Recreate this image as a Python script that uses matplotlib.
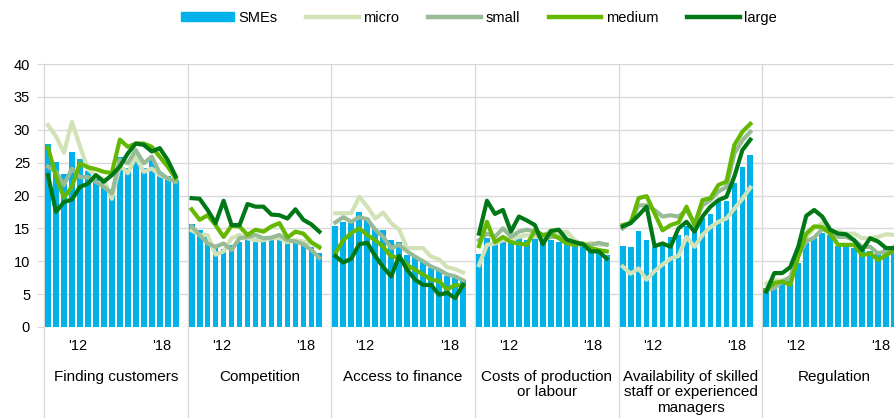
import numpy as np
import matplotlib
matplotlib.use("Agg")
import matplotlib.pyplot as plt
import matplotlib.transforms as mtransforms
from matplotlib.patches import Patch
from matplotlib.lines import Line2D

plt.rcParams["font.family"] = ["Liberation Sans", "DejaVu Sans"]

# Problems (one panel per problem), 17 survey rounds each
problems = ["Finding customers", "Competition", "Access to finance",
            "Costs of production\nor labour",
            "Availability of skilled\nstaff or experienced\nmanagers",
            "Regulation"]
year_labels = ["'12", "'18"]

smes = [
    [27.8, 25.1, 23.3, 26.6, 25.5, 23.8, 22.5, 22.0, 21.0, 25.9, 24.2, 26.0, 24.2, 25.5, 23.5, 23.0, 22.3],
    [15.6, 14.8, 13.8, 12.5, 11.8, 12.5, 13.0, 13.5, 13.5, 13.3, 13.2, 13.3, 13.0, 12.8, 12.8, 12.2, 11.2],
    [15.3, 16.0, 15.8, 17.5, 16.6, 14.9, 14.8, 13.2, 13.0, 11.0, 10.6, 10.0, 9.0, 8.5, 7.8, 7.5, 7.1],
    [11.1, 13.6, 13.0, 13.0, 13.2, 14.0, 13.3, 13.4, 13.0, 13.3, 13.0, 12.8, 12.4, 12.4, 11.8, 11.6, 11.0],
    [12.3, 12.2, 14.6, 13.2, 12.2, 12.5, 13.7, 14.0, 15.4, 15.0, 16.6, 17.2, 19.1, 19.1, 21.9, 24.3, 26.1],
    [5.9, 6.4, 6.8, 7.2, 9.8, 12.8, 13.5, 14.3, 14.0, 12.3, 12.3, 12.0, 11.7, 11.6, 11.5, 12.3, 12.3],
]
micro = [
    [30.7, 29.0, 26.5, 31.2, 27.5, 24.0, 23.0, 22.5, 19.5, 24.6, 23.4, 25.9, 23.6, 24.1, 23.1, 22.6, 22.1],
    [14.7, 14.0, 14.0, 11.0, 11.5, 13.5, 14.0, 13.5, 13.2, 13.2, 13.5, 13.5, 12.9, 13.2, 13.0, 12.7, 12.3],
    [17.3, 17.3, 17.3, 19.8, 18.3, 16.5, 17.4, 15.8, 14.8, 12.0, 12.0, 12.0, 10.7, 10.3, 9.1, 8.8, 8.3],
    [9.4, 12.5, 12.7, 13.2, 13.3, 13.7, 14.0, 13.7, 13.7, 14.8, 14.2, 14.5, 13.2, 12.5, 12.8, 12.5, 12.6],
    [9.2, 8.1, 8.9, 7.2, 8.5, 9.5, 10.4, 10.8, 13.7, 12.2, 14.0, 15.2, 16.0, 16.5, 18.0, 19.5, 21.2],
    [6.6, 7.1, 7.1, 7.4, 11.7, 13.7, 15.0, 15.8, 14.2, 14.5, 14.2, 14.2, 13.5, 13.5, 13.7, 14.1, 14.0],
]
small = [
    [24.4, 23.6, 21.6, 24.1, 22.8, 22.8, 22.1, 21.3, 20.3, 25.4, 24.9, 26.9, 24.9, 25.9, 23.4, 22.6, 22.1],
    [15.3, 14.0, 12.7, 12.2, 12.7, 11.7, 13.5, 13.7, 14.0, 13.5, 13.6, 14.0, 13.2, 13.0, 12.6, 11.7, 10.5],
    [15.9, 16.7, 16.0, 16.7, 16.4, 14.8, 13.7, 12.0, 12.5, 11.5, 10.7, 10.0, 9.2, 8.7, 8.0, 7.7, 7.1],
    [13.2, 14.2, 13.7, 15.0, 13.7, 14.5, 14.8, 14.5, 13.2, 13.7, 13.7, 12.9, 12.8, 12.5, 12.5, 12.8, 12.5],
    [15.0, 16.0, 18.5, 18.5, 17.8, 16.8, 17.0, 16.8, 17.8, 15.8, 18.5, 19.3, 20.6, 21.3, 26.4, 28.4, 29.7],
    [5.6, 5.9, 6.9, 7.6, 10.9, 13.0, 13.6, 14.9, 14.5, 13.7, 13.7, 13.2, 12.2, 12.2, 11.2, 11.5, 12.2],
]
medium = [
    [27.3, 22.9, 19.7, 21.3, 24.9, 24.3, 24.0, 23.6, 23.4, 28.5, 27.4, 27.9, 27.9, 27.4, 25.9, 24.4, 22.6],
    [17.9, 16.3, 17.0, 15.5, 13.7, 15.4, 15.3, 14.0, 14.8, 14.5, 15.3, 15.8, 13.6, 14.5, 14.2, 12.9, 12.1],
    [11.2, 13.2, 14.3, 15.0, 14.0, 13.2, 12.2, 10.7, 10.6, 9.4, 8.7, 8.0, 7.2, 7.0, 5.7, 6.4, 6.3],
    [12.3, 16.0, 12.9, 13.7, 12.9, 12.7, 12.5, 14.7, 14.0, 14.2, 13.5, 12.7, 12.5, 12.7, 12.0, 11.7, 11.5],
    [15.5, 15.8, 19.6, 19.9, 17.3, 14.7, 15.5, 15.9, 18.3, 15.5, 19.3, 19.6, 21.6, 22.1, 27.7, 29.7, 30.9],
    [5.7, 6.7, 6.9, 6.4, 10.7, 14.2, 15.3, 15.2, 14.2, 12.5, 12.5, 12.5, 10.9, 11.2, 10.2, 10.9, 11.7],
]
large = [
    [23.1, 17.5, 19.0, 19.4, 21.3, 21.8, 23.1, 22.1, 23.1, 24.4, 26.4, 27.9, 27.7, 26.7, 27.2, 25.4, 22.9],
    [19.6, 19.5, 17.8, 15.8, 19.2, 15.5, 15.5, 18.7, 18.3, 18.3, 17.1, 17.0, 16.5, 17.9, 16.3, 15.6, 14.5],
    [10.8, 9.8, 10.4, 12.6, 12.8, 10.8, 9.1, 7.7, 10.8, 8.7, 7.2, 6.4, 6.4, 4.9, 5.2, 4.4, 6.4],
    [14.2, 19.2, 17.2, 17.8, 14.5, 16.8, 16.2, 15.5, 12.6, 14.6, 14.8, 13.3, 12.9, 12.6, 11.5, 11.5, 10.4],
    [15.3, 15.8, 17.0, 18.3, 12.3, 12.7, 12.2, 15.0, 16.0, 14.5, 16.8, 18.3, 19.3, 19.8, 22.9, 26.9, 28.5],
    [5.4, 8.2, 8.2, 9.1, 12.2, 16.9, 17.8, 16.8, 14.8, 14.2, 14.1, 13.2, 11.7, 13.5, 13.0, 12.0, 12.0],
]

c_sme = "#00B1EA"
c_micro = "#D1E3B6"
c_small = "#98BB97"
c_medium = "#65B800"
c_large = "#007816"
c_grid = "#D9D9D9"

fig = plt.figure(figsize=(8.94, 4.18), dpi=100)
# axes runs past the right edge on purpose (last panel is cut off)
ax = fig.add_axes([44 / 894, 91 / 418, 862 / 894, 263 / 418])

slot = 18
n = 17
for g in range(len(problems)):
    x = slot * g + np.arange(n) + 0.5
    ax.bar(x, smes[g], width=0.72, color=c_sme, zorder=2)
    ax.plot(x, micro[g], color=c_micro, lw=3, zorder=3, solid_joinstyle="round")
    ax.plot(x, small[g], color=c_small, lw=3, zorder=4, solid_joinstyle="round")
    ax.plot(x, medium[g], color=c_medium, lw=3, zorder=5, solid_joinstyle="round")
    ax.plot(x, large[g], color=c_large, lw=3, zorder=6, solid_joinstyle="round")

# panel separators, down through the label area
for g in range(len(problems) + 1):
    ax.axvline(slot * g, ymin=-0.35, ymax=1, color=c_grid, lw=1, clip_on=False, zorder=1)

ax.set_xlim(0, slot * len(problems))
ax.set_ylim(0, 40)
ax.set_yticks(range(0, 41, 5))
ax.yaxis.grid(True, color=c_grid, lw=1, zorder=0)
ax.set_axisbelow(True)
for s in ax.spines.values():
    s.set_visible(False)
ax.tick_params(axis="y", length=5, color=c_grid, labelsize=10.5, pad=5)

ticks, labels = [], []
for g in range(len(problems)):
    ticks += [slot * g + 4.2, slot * g + 14.8]
    labels += year_labels
ax.set_xticks(ticks)
ax.set_xticklabels(labels)
ax.tick_params(axis="x", length=0, labelsize=10.5, pad=9)

trans = mtransforms.blended_transform_factory(ax.transData, ax.transAxes)
for g, name in enumerate(problems):
    ax.text(slot * g + slot / 2, -0.163, name, transform=trans, ha="center",
            va="top", fontsize=11, linespacing=1.12)

handles = [
    Patch(color=c_sme),
    Line2D([], [], color=c_micro, lw=3.2),
    Line2D([], [], color=c_small, lw=3.2),
    Line2D([], [], color=c_medium, lw=3.2),
    Line2D([], [], color=c_large, lw=3.2),
]
fig.legend(handles, ["SMEs", "micro", "small", "medium", "large"],
           loc="center", bbox_to_anchor=(479 / 894, 1 - 18 / 418), ncol=5,
           frameon=False, fontsize=10.5, handlelength=3.6, handleheight=0.55,
           handletextpad=0.3, columnspacing=2.0)

fig.savefig("out.png", dpi=100)
